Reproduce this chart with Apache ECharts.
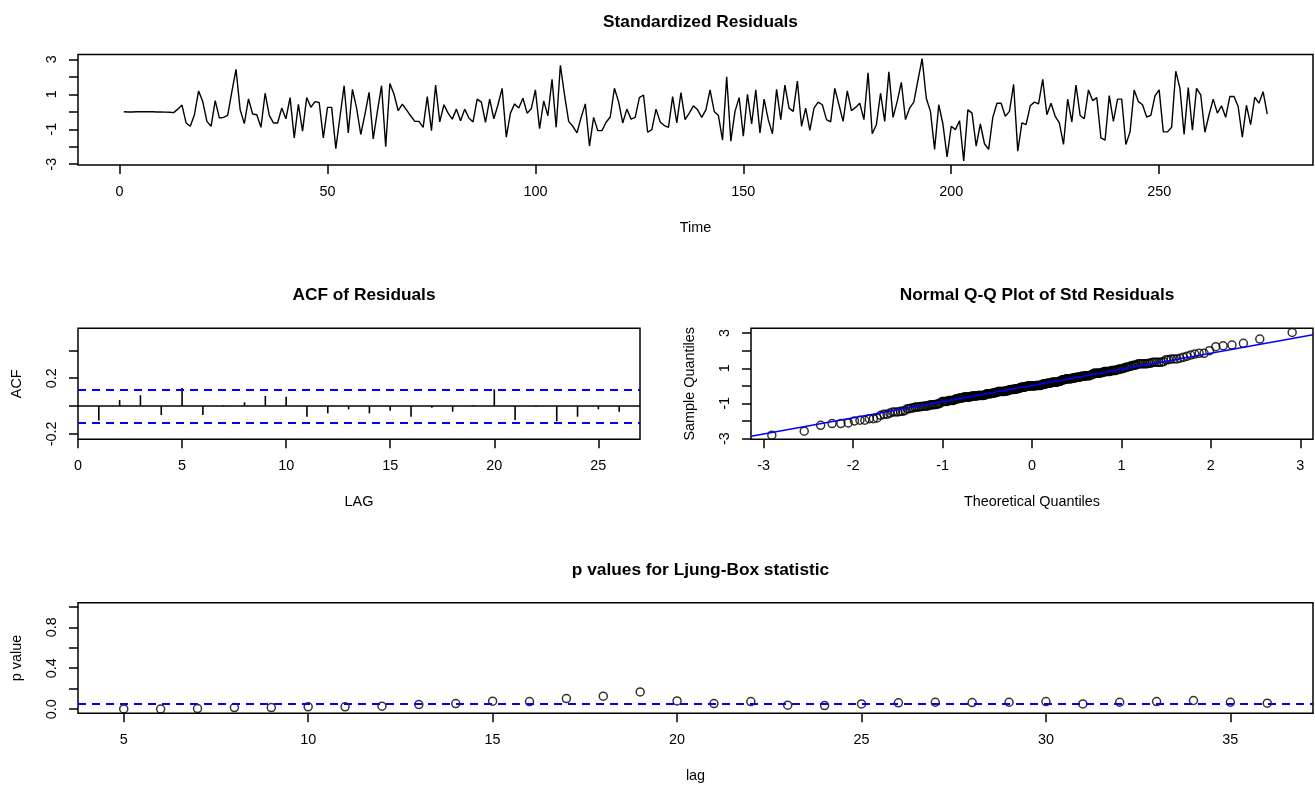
<!DOCTYPE html>
<html>
<head>
<meta charset="utf-8">
<script src="https://cdn.jsdelivr.net/npm/echarts@6/dist/echarts.min.js"></script>
<style>
  html, body { margin: 0; padding: 0; background: #ffffff; }
  #chart { width: 1315px; height: 787px; }
</style>
</head>
<body>
<div id="chart"></div>
<script>
// ---------------- DATA ----------------
// Standardized residuals, t = 1 .. 276
const stdResiduals = [
  0.00, -0.01, -0.01, 0.00, 0.00, 0.01, 0.00, 0.00, -0.01, -0.01, -0.02, -0.03, -0.05,
  0.15, 0.38, -0.64, -0.83, -0.17, 1.19, 0.58, -0.55, -0.83, 0.64, -0.36, -0.32, -0.21, 1.15, 2.42,
  0.11, -0.68, 0.74, -0.13, -0.17, -0.89, 1.06, -0.21, -0.64, -0.64, 0.21, -0.40, 0.81, -1.49,
  0.43, -1.11, 0.81, 0.26, 0.58, 0.53, -1.49, 0.25, 0.25, -2.11, -0.30, 1.49, -1.21, 1.28,
  0.21, -1.30, -0.15, 1.11, -1.55, 0.02, 1.49, -2.00, 1.62, 1.00, 0.06,
  0.43, 0.11, -0.23, -0.55, -0.55, -0.89, 0.87, -1.08, 1.53, -0.58, 0.40, -0.08, -0.42, 0.15,
  -0.51, 0.15, -0.36, -0.58, 0.72, 0.55, -0.60, 0.72, -0.40, 0.40, 1.34, -1.45, -0.08, 0.45,
  0.21, 0.77, -0.08, 0.17, 1.25, -0.96, 0.62, -0.23, 1.85, -0.89, 2.66, 0.96, -0.55, -0.83,
  -1.21, -0.32, 0.45, -1.96, -0.32, -1.08, -1.08, -0.60, -0.30, 1.34, 0.58, -0.64, 0.15, -0.42,
  -0.32, 0.81, 0.96, -1.17, -1.02, 0.15, -0.58, -0.79, -0.89, 0.87, -0.64, 1.09, -0.45, -0.08,
  0.34, 0.11, -0.32, 0.11, 1.25,
  0.02, -0.21, -1.62, 2.00, -1.68, 0.02, 0.81, -1.40, 1.00, -0.70, 1.25, -1.21, 0.72, -0.45,
  -1.26, 1.28, -0.45, 1.53, 0.21, 0.02, 1.75, -0.83, 0.21, -1.06, 0.21, 0.55, 0.40, -0.45,
  -0.58, 1.34, 0.40, -0.55, 1.19, 0.06, 0.25, 0.49, -0.45, 2.23, -1.26, -0.74, 1.06, -0.55,
  2.28, -0.32, 0.58, 1.68, -0.45, 0.21, 0.55, 1.81, 3.04, 0.77, 0.02, -2.15, 0.40, -0.70,
  -2.58, -0.83, -1.02, -0.51, -2.81, 0.11, -0.08, -1.96, -0.70, -1.83, -2.15, -0.32, 0.49, 0.49,
  -0.26, 0.02, 1.57, -2.25,
  -0.64, -0.74, 0.34, 0.55, 0.45, 1.85, -0.17, 0.49, -0.26, -0.64, -1.87, 0.72, -0.58, 1.53,
  -0.21, -0.40, 1.25, 0.64, 0.81, -1.49, -1.62, 0.92, -0.55, 0.72, 0.72, -1.87, -1.15, 1.25,
  0.58, 0.40, -0.30, -0.21, 0.91, 1.25, -1.15, -1.15, -0.89, 2.32, 1.34, -1.30, 1.38, -1.06,
  1.34, 0.96, -1.17, -0.17, 0.72, -0.08, 0.34, -0.32, 0.87, 0.87, 0.30, -1.45, 0.36, -0.74,
  0.83, 0.49, 1.15, -0.13
];

// ACF of residuals
const acfLags = [1,2,3,4,5,6,7,8,9,10,11,12,13,14,15,16,17,18,19,20,21,22,23,24,25,26];
const acfValues = [-0.105, 0.043, 0.078, -0.065, 0.13, -0.065, 0.005, 0.027, 0.072, 0.067,
  -0.077, -0.053, -0.024, -0.053, -0.034, -0.077, -0.012, -0.041, 0.007, 0.12,
  -0.100, -0.005, -0.11, -0.077, -0.024, -0.041];

// Ljung-Box p values
const lbLags = [5,6,7,8,9,10,11,12,13,14,15,16,17,18,19,20,21,22,23,24,25,26,27,28,29,30,31,32,33,34,35,36];
const lbPValues = [0.003, 0.001, 0.006, 0.016, 0.016, 0.023, 0.023, 0.030, 0.045, 0.055,
  0.078, 0.075, 0.104, 0.127, 0.169, 0.081, 0.055, 0.075, 0.039, 0.036,
  0.052, 0.062, 0.068, 0.065, 0.068, 0.075, 0.052, 0.068, 0.075, 0.085, 0.068, 0.059];
const lbLevel = 0.05;

// Tick values / labels
const topXTicks = [0, 50, 100, 150, 200, 250];
const topYTicks = [-3, -2, -1, 0, 1, 2, 3];
const topYLabels = [-3, -1, 1, 3];
const acfXTicks = [0, 5, 10, 15, 20, 25];
const acfYTicks = [-0.2, 0, 0.2, 0.4];
const acfYLabels = [-0.2, 0.2];
const qqXTicks = [-3, -2, -1, 0, 1, 2, 3];
const qqYTicks = [-3, -2, -1, 0, 1, 2, 3];
const qqYLabels = [-3, -1, 1, 3];
const lbXTicks = [5, 10, 15, 20, 25, 30, 35];
const lbYTicks = [0, 0.2, 0.4, 0.6, 0.8, 1.0];
const lbYLabels = [0, 0.4, 0.8];

// ---------------- helpers ----------------
function qnorm(p) {
  const a = [-3.969683028665376e+01, 2.209460984245205e+02, -2.759285104469687e+02, 1.383577518672690e+02, -3.066479806614716e+01, 2.506628277459239e+00];
  const b = [-5.447609879822406e+01, 1.615858368580409e+02, -1.556989798598866e+02, 6.680131188771972e+01, -1.328068155288572e+01];
  const c = [-7.784894002430293e-03, -3.223964580411365e-01, -2.400758277161838e+00, -2.549732539343734e+00, 4.374664141464968e+00, 2.938163982698783e+00];
  const d = [7.784695709041462e-03, 3.224671290700398e-01, 2.445134137142996e+00, 3.754408661907416e+00];
  const pl = 0.02425, ph = 1 - pl;
  let q, r;
  if (p < pl) {
    q = Math.sqrt(-2 * Math.log(p));
    return (((((c[0]*q+c[1])*q+c[2])*q+c[3])*q+c[4])*q+c[5]) / ((((d[0]*q+d[1])*q+d[2])*q+d[3])*q+1);
  }
  if (p <= ph) {
    q = p - 0.5; r = q * q;
    return (((((a[0]*r+a[1])*r+a[2])*r+a[3])*r+a[4])*r+a[5])*q / (((((b[0]*r+b[1])*r+b[2])*r+b[3])*r+b[4])*r+1);
  }
  q = Math.sqrt(-2 * Math.log(1 - p));
  return -(((((c[0]*q+c[1])*q+c[2])*q+c[3])*q+c[4])*q+c[5]) / ((((d[0]*q+d[1])*q+d[2])*q+d[3])*q+1);
}
function pad(lo, hi) { const r = hi - lo; return [lo - 0.04 * r, hi + 0.04 * r]; }
function quantile7(sorted, p) {
  const h = (sorted.length - 1) * p, lo = Math.floor(h);
  return sorted[lo] + (h - lo) * (sorted[Math.min(lo + 1, sorted.length - 1)] - sorted[lo]);
}

// ---------------- derived ----------------
const n = stdResiduals.length;
const residPairs = stdResiduals.map((v, i) => [i + 1, v]);
const rMin = Math.min(...stdResiduals), rMax = Math.max(...stdResiduals);
const topX = pad(1, n), topY = pad(rMin, rMax);

const acfPairs = acfLags.map((l, i) => [l, acfValues[i]]);
const acfX = pad(acfLags[0], acfLags[acfLags.length - 1]);
const acfY = pad(Math.min(...acfValues) - 0.1, Math.min(1, Math.max(...acfValues) + 0.4));
const confL = 2 / Math.sqrt(n);

const sortedRes = stdResiduals.slice().sort((x, y) => x - y);
const theo = sortedRes.map((_, i) => qnorm((i + 1 - 0.5) / n));
const qqPairs = sortedRes.map((v, i) => [theo[i], v]);
const qqX = pad(theo[0], theo[n - 1]), qqY = pad(rMin, rMax);
const q1 = quantile7(sortedRes, 0.25), q3 = quantile7(sortedRes, 0.75);
const z1 = qnorm(0.25), z3 = qnorm(0.75);
const slope = (q3 - q1) / (z3 - z1), intercept = q1 - slope * z1;
const qqLine = [[qqX[0], intercept + slope * qqX[0]], [qqX[1], intercept + slope * qqX[1]]];

const lbPairs = lbLags.map((l, i) => [l, lbPValues[i]]);
const lbX = pad(lbLags[0], lbLags[lbLags.length - 1]), lbY = pad(0, 1);

// ---------------- styling ----------------
const FONT = "'Liberation Sans', Arial, Helvetica, sans-serif";
const FS = 14.4;
const BLACK = '#000000';
const BLUE = '#0000ff';

function xAxisCfg(idx, range, ticks, name, fmt) {
  return {
    type: 'value', gridIndex: idx, min: range[0], max: range[1], position: 'bottom',
    axisLine: { show: false, onZero: false },
    splitLine: { show: false },
    axisTick: { show: true, length: 9, customValues: ticks, lineStyle: { color: BLACK, width: 1.5 } },
    axisLabel: { show: true, customValues: ticks, margin: 20, color: BLACK, fontSize: FS, fontFamily: FONT,
      formatter: fmt || (v => String(Math.round(v))) },
    name: name, nameLocation: 'middle', nameGap: 56,
    nameTextStyle: { color: BLACK, fontSize: FS, fontFamily: FONT }
  };
}
function yAxisCfg(idx, range, ticks, labels, name, fmt) {
  return {
    type: 'value', gridIndex: idx, min: range[0], max: range[1], position: 'left',
    axisLine: { show: false, onZero: false },
    splitLine: { show: false },
    axisTick: { show: true, length: 9, customValues: ticks, lineStyle: { color: BLACK, width: 1.5 } },
    axisLabel: { show: true, customValues: labels, rotate: 90, margin: 19, color: BLACK, fontSize: FS, fontFamily: FONT,
      formatter: fmt || (v => String(Math.round(v))) },
    name: name || '', nameLocation: 'middle', nameGap: 54, nameRotate: 90,
    nameTextStyle: { color: BLACK, fontSize: FS, fontFamily: FONT }
  };
}
const gridBase = { show: true, borderColor: BLACK, borderWidth: 1.5, backgroundColor: 'transparent', containLabel: false, outerBoundsMode: 'none' };
const titleStyle = { color: BLACK, fontSize: 17.3, fontWeight: 'bold', fontFamily: FONT };
const openCircle = { color: 'rgba(0,0,0,0)', borderColor: BLACK, borderWidth: 1.5 };

const option = {
  animation: false,
  backgroundColor: '#ffffff',
  title: [
    { text: 'Standardized Residuals', left: 695.5, top: 9, textAlign: 'center', textStyle: titleStyle },
    { text: 'ACF of Residuals', left: 359, top: 282, textAlign: 'center', textStyle: titleStyle },
    { text: 'Normal Q-Q Plot of Std Residuals', left: 1032, top: 282, textAlign: 'center', textStyle: titleStyle },
    { text: 'p values for Ljung-Box statistic', left: 695.5, top: 557, textAlign: 'center', textStyle: titleStyle }
  ],
  grid: [
    Object.assign({ left: 78, top: 54.5, width: 1235, height: 110.5 }, gridBase),
    Object.assign({ left: 78, top: 328.3, width: 562, height: 111 }, gridBase),
    Object.assign({ left: 751, top: 328.3, width: 562, height: 111 }, gridBase),
    Object.assign({ left: 78, top: 602.7, width: 1235, height: 110.6 }, gridBase)
  ],
  xAxis: [
    xAxisCfg(0, topX, topXTicks, 'Time'),
    xAxisCfg(1, acfX, acfXTicks, 'LAG'),
    xAxisCfg(2, qqX, qqXTicks, 'Theoretical Quantiles'),
    xAxisCfg(3, lbX, lbXTicks, 'lag')
  ],
  yAxis: [
    yAxisCfg(0, topY, topYTicks, topYLabels, ''),
    yAxisCfg(1, acfY, acfYTicks, acfYLabels, 'ACF', v => v.toFixed(1)),
    yAxisCfg(2, qqY, qqYTicks, qqYLabels, 'Sample Quantiles'),
    yAxisCfg(3, lbY, lbYTicks, lbYLabels, 'p value', v => v.toFixed(1))
  ],
  series: [
    {
      type: 'line', xAxisIndex: 0, yAxisIndex: 0, data: residPairs,
      showSymbol: false, symbol: 'none', lineStyle: { color: BLACK, width: 1.4 }, silent: true
    },
    {
      type: 'bar', xAxisIndex: 1, yAxisIndex: 1, data: acfPairs, barWidth: 1.6,
      itemStyle: { color: BLACK }, silent: true,
      markLine: {
        symbol: 'none', silent: true, label: { show: false },
        data: [
          { yAxis: 0, lineStyle: { color: BLACK, type: 'solid', width: 1.5 } },
          { yAxis: confL, lineStyle: { color: BLUE, type: [8, 6], width: 2 } },
          { yAxis: -confL, lineStyle: { color: BLUE, type: [8, 6], width: 2 } }
        ]
      }
    },
    {
      type: 'scatter', xAxisIndex: 2, yAxisIndex: 2, data: qqPairs, symbol: 'circle', symbolSize: 8,
      itemStyle: openCircle, silent: true, z: 2
    },
    {
      type: 'line', xAxisIndex: 2, yAxisIndex: 2, data: qqLine, showSymbol: false, symbol: 'none',
      lineStyle: { color: BLUE, width: 1.4 }, silent: true, z: 3
    },
    {
      type: 'scatter', xAxisIndex: 3, yAxisIndex: 3, data: lbPairs, symbol: 'circle', symbolSize: 8,
      itemStyle: openCircle, silent: true, z: 3,
      markLine: {
        symbol: 'none', silent: true, label: { show: false },
        data: [ { yAxis: lbLevel, lineStyle: { color: BLUE, type: [8, 6], width: 2 } } ]
      }
    }
  ]
};

const chart = echarts.init(document.getElementById('chart'), null, { renderer: 'canvas' });
chart.setOption(option);
</script>
</body>
</html>
